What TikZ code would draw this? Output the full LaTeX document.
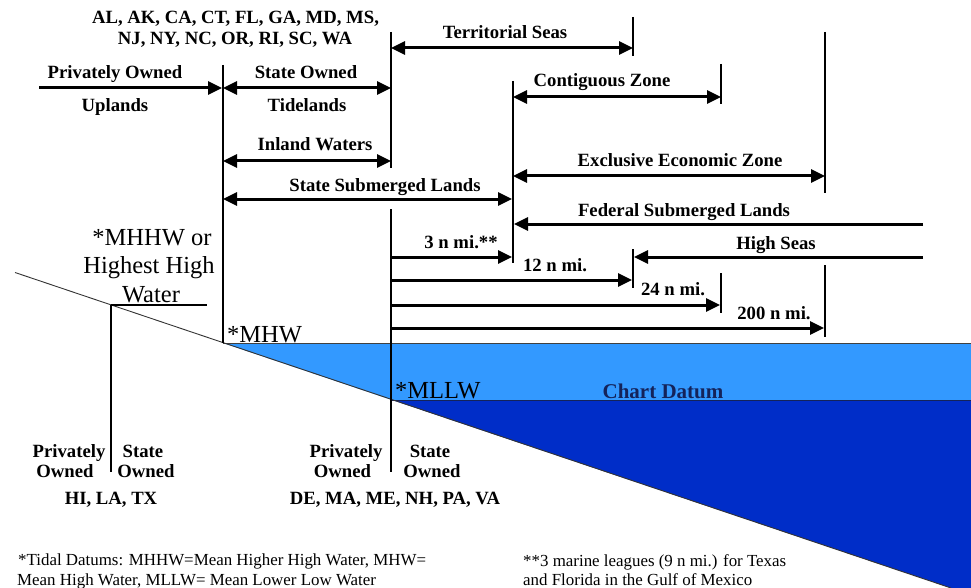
\documentclass[tikz,border=0pt]{standalone}
\usepackage{fontspec}
\setmainfont{Liberation Serif}
\usetikzlibrary{arrows.meta}
\definecolor{lightwater}{RGB}{51,153,255}
\definecolor{deepwater}{RGB}{0,45,200}
\definecolor{navytext}{RGB}{20,35,90}
\begin{document}
\begin{tikzpicture}[x=1pt,y=-1pt,
  lbl/.style={font=\fontsize{18.7}{20}\selectfont\bfseries, anchor=base, inner sep=0pt},
  bigl/.style={font=\fontsize{24.5}{26}\selectfont, anchor=base, inner sep=0pt},
  foot/.style={font=\fontsize{16.9}{19}\selectfont, anchor=base west, inner sep=0pt},
  vline/.style={line width=1.8pt},
  dimone/.style={line width=3pt, -{Triangle[length=14pt,width=13pt]}},
  dimtwo/.style={line width=3pt, {Triangle[length=14pt,width=13pt]}-{Triangle[length=14pt,width=13pt]}}]
\useasboundingbox[fill=white] (0,0) rectangle (971,588);

% ---- shore and water ----
\coordinate (shoreL) at (15,272.5);
\coordinate (mhhwpt) at (111,305);
\coordinate (mhwpt) at (223,343);
\coordinate (mllwpt) at (392,400);
\coordinate (shoreR) at (951,588);
\coordinate (wtopR) at (971,343);
\coordinate (datumR) at (971,400);
\coordinate (botR) at (971,588);
\fill[lightwater] (mhwpt) -- (wtopR) -- (datumR) -- (mllwpt) -- cycle;
\fill[deepwater] (mllwpt) -- (datumR) -- (botR) -- (shoreR) -- cycle;
\draw[line width=0.9pt, black!75] (mhwpt) -- (wtopR);
\draw[line width=1pt, navytext] (mllwpt) -- (datumR);
\draw[line width=0.9pt, black!80] (shoreL) -- (shoreR);

% ---- vertical reference lines ----
\coordinate (Atop) at (223,65);
\coordinate (Btop) at (391,32);  \coordinate (Bmid) at (391,168);
\coordinate (Blow) at (391,209); \coordinate (Bbot) at (391,472);
\coordinate (Ctop) at (513,81);  \coordinate (Cbot) at (513,263);
\draw[vline] (Atop) -- (mhwpt);
\draw[vline] (Btop) -- (Bmid);
\draw[vline] (Blow) -- (Bbot);
\draw[vline] (Ctop) -- (Cbot);
\draw[vline] (633,17) -- (633,56);
\draw[vline] (633,249) -- (633,288);
\draw[vline] (721,64) -- (721,104);
\draw[vline] (721,273) -- (721,313);
\draw[vline] (825,32) -- (825,193);
\draw[vline] (825,265) -- (825,337);
\coordinate (mhhwbot) at (111,472);
\coordinate (mhhwR) at (207,305);
\draw[vline] (mhhwpt) -- (mhhwbot);
\draw[line width=1.5pt] (mhhwpt) -- (mhhwR);

% ---- dimension arrows ----
\draw[dimone] (39,88) -- (222,88);
\draw[dimtwo] (223,88) -- (391,88);
\draw[dimtwo] (223,161) -- (391,161);
\draw[dimtwo] (391,48) -- (633,48);
\draw[dimtwo] (513,97) -- (721,97);
\draw[dimtwo] (513,176) -- (825,176);
\draw[dimtwo] (223,199) -- (512,199);
\draw[dimone] (923,224) -- (514,224);
\draw[dimone] (923,257) -- (634,257);
\draw[dimone] (391,257) -- (512,257);
\draw[dimone] (391,280) -- (632,280);
\draw[dimone] (391,305) -- (720,305);
\draw[dimone] (391,328) -- (824,328);

% ---- labels ----
\node[lbl] (st1) at (235.5,24) {AL, AK, CA, CT, FL, GA, MD, MS,};
\node[lbl] (st2) at (235,45) {NJ, NY, NC, OR, RI, SC, WA};
\node[lbl] (po) at (115,79) {Privately Owned};
\node[lbl] (up) at (115,112) {Uplands};
\node[lbl] (so) at (306,79) {State Owned};
\node[lbl] (tl) at (307,112) {Tidelands};
\node[lbl] (iw) at (315,151) {Inland Waters};
\node[lbl] (ts) at (505,39) {Territorial Seas};
\node[lbl] (cz) at (602,87) {Contiguous Zone};
\node[lbl] (eez) at (680,167) {Exclusive Economic Zone};
\node[lbl] (ssl) at (385,191) {State Submerged Lands};
\node[lbl] (fsl) at (684,216) {Federal Submerged Lands};
\node[lbl] (hs) at (776,249) {High Seas};
\node[lbl] (n3) at (461,248) {3 n mi.**};
\node[lbl] (n12) at (555,271) {12 n mi.};
\node[lbl] (n24) at (673,295) {24 n mi.};
\node[lbl] (n200) at (774,319) {200 n mi.};

\node[bigl] (mh1) at (152,245) {*MHHW or};
\node[bigl] (mh2) at (149,273) {Highest High};
\node[bigl] (mh3) at (151,302) {Water};
\node[bigl, anchor=base west] (mhw) at (227,342) {*MHW};
\node[bigl, anchor=base west] (mllw) at (395,398) {*MLLW};
\node[lbl, font=\fontsize{21}{23}\selectfont\bfseries, text=navytext] (cd) at (663,398) {Chart Datum};

\node[lbl] (p1) at (69,457) {Privately};
\node[lbl] (o1) at (65,477) {Owned};
\node[lbl] (s1) at (143,457) {State};
\node[lbl] (o2) at (146,477) {Owned};
\node[lbl] (hi) at (111,504) {HI, LA, TX};
\node[lbl] (p2) at (346,457) {Privately};
\node[lbl] (o3) at (342.5,477) {Owned};
\node[lbl] (s2) at (430,457) {State};
\node[lbl] (o4) at (432,477) {Owned};
\node[lbl] (de) at (395,504) {DE, MA, ME, NH, PA, VA};

\node[foot] (f1) at (18,565) {*Tidal Datums: MHHW=Mean Higher High Water, MHW=};
\node[foot] (f2) at (17,585) {Mean High Water, MLLW= Mean Lower Low Water};
\node[foot] (f3) at (523,566) {**3 marine leagues (9 n mi.) for Texas};
\node[foot] (f4) at (523,585) {and Florida in the Gulf of Mexico};
\end{tikzpicture}
\end{document}
